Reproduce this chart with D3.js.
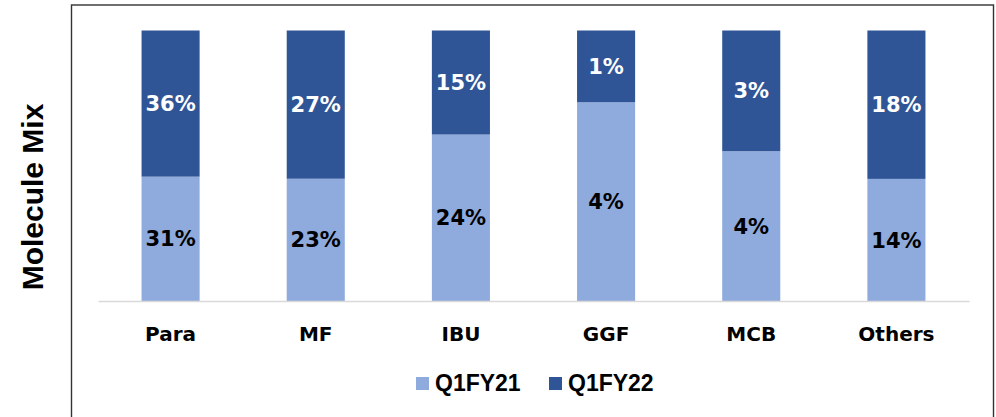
<!DOCTYPE html>
<html>
<head>
<meta charset="utf-8">
<script src="https://cdn.jsdelivr.net/npm/d3@7"></script>
<style>
  body { margin: 0; background: #fff; }
  svg { display: block; }
</style>
</head>
<body>
<div id="chart"></div>
<script>
// molecule mix, share per category
const categories = ["Para", "MF", "IBU", "GGF", "MCB", "Others"];
const seriesNames = ["Q1FY21", "Q1FY22"];
const q1fy21 = [30.8, 22.6, 24, 3.6, 3.6, 14.4];
const q1fy22 = [36.2, 27.4, 15, 1.3, 2.9, 17.5];
const colors = ["#8FAADC", "#2F5597"];
const labelColors = ["#000000", "#ffffff"];

const width = 996, height = 417;

const svg = d3.select("#chart").append("svg")
    .attr("width", width)
    .attr("height", height);

// outer frame
svg.append("rect")
    .attr("x", 71.5)
    .attr("y", 5)
    .attr("width", 922)
    .attr("height", 430)
    .attr("fill", "none")
    .attr("stroke", "#333")
    .attr("stroke-width", 1.4);

const rows = categories.map((c, i) => ({ cat: c, Q1FY21: q1fy21[i], Q1FY22: q1fy22[i] }));

const stack = d3.stack()
    .keys(seriesNames)
    .offset(d3.stackOffsetExpand);
const layers = stack(rows);

const xScale = d3.scaleBand()
    .domain(categories)
    .range([98, 969])
    .paddingInner(0.6)
    .paddingOuter(0.3);

const yScale = d3.scaleLinear()
    .domain([0, 1])
    .range([301, 30.5]);

const groups = svg.selectAll("g.layer")
    .data(layers)
    .enter().append("g")
    .attr("class", "layer")
    .attr("fill", (d, i) => colors[i]);

groups.selectAll("rect")
    .data(d => d)
    .enter().append("rect")
    .attr("x", d => xScale(d.data.cat))
    .attr("y", d => yScale(d[1]))
    .attr("width", xScale.bandwidth())
    .attr("height", d => yScale(d[0]) - yScale(d[1]));

// value labels
const fmt = d3.format(".0f");
layers.forEach((layer, i) => {
    svg.append("g").selectAll("text")
        .data(layer)
        .enter().append("text")
        .attr("x", d => xScale(d.data.cat) + xScale.bandwidth() / 2)
        .attr("y", d => (yScale(d[0]) + yScale(d[1])) / 2)
        .attr("dy", "0.36em")
        .attr("text-anchor", "middle")
        .attr("font-family", "DejaVu Sans")
        .attr("font-weight", "bold")
        .attr("font-size", 21)
        .attr("fill", labelColors[i])
        .text(d => fmt(d.data[layer.key]) + "%");
});

// x axis
const xAxis = svg.append("g")
    .attr("transform", "translate(0,301)")
    .call(d3.axisBottom(xScale).tickSize(0));
xAxis.select(".domain")
    .attr("stroke", "#d9d9d9")
    .attr("stroke-width", 1.5);
xAxis.selectAll(".tick text")
    .attr("y", 40)
    .attr("dy", 0)
    .attr("font-family", "DejaVu Sans")
    .attr("font-weight", "bold")
    .attr("font-size", 20)
    .attr("fill", "#000");

// y title
svg.append("text")
    .attr("transform", "translate(43,197) rotate(-90)")
    .attr("text-anchor", "middle")
    .attr("font-family", "Liberation Sans")
    .attr("font-weight", "bold")
    .attr("font-size", 30)
    .attr("fill", "#000")
    .text("Molecule Mix");

// legend
const legendX = [416, 549];
const legend = svg.selectAll("g.legend")
    .data(seriesNames)
    .enter().append("g")
    .attr("class", "legend")
    .attr("transform", (d, i) => `translate(${legendX[i]},377)`);
legend.append("rect")
    .attr("width", 13)
    .attr("height", 13)
    .attr("fill", (d, i) => colors[i]);
legend.append("text")
    .attr("x", 19)
    .attr("y", 14)
    .attr("font-family", "Liberation Sans")
    .attr("font-weight", "bold")
    .attr("font-size", 23)
    .attr("fill", "#000")
    .text(d => d);
</script>
</body>
</html>
